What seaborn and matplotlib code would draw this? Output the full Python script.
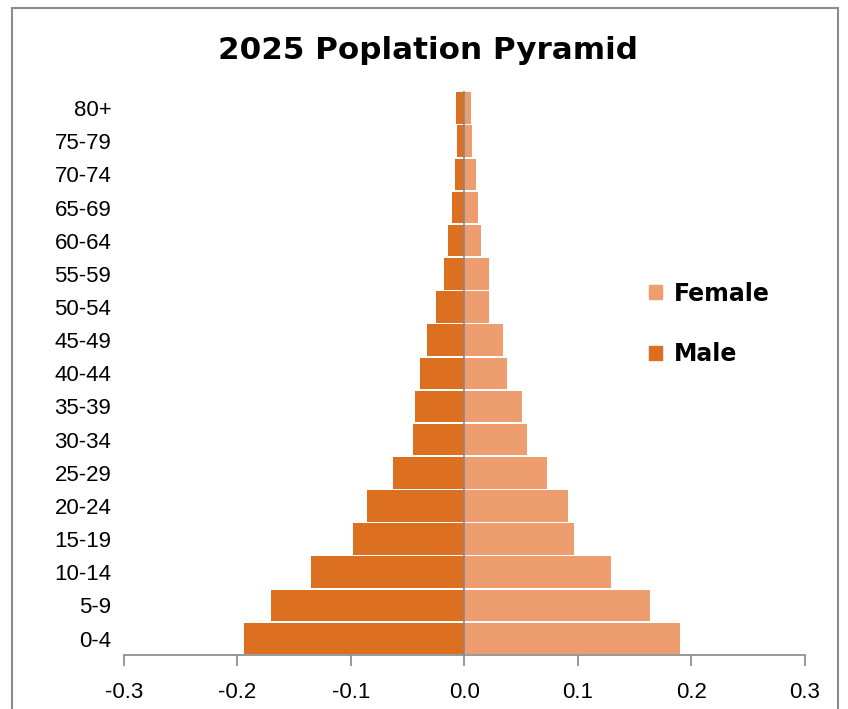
import matplotlib
matplotlib.use("Agg")
import matplotlib.pyplot as plt
import matplotlib.patches as mpatches
import seaborn as sns
import pandas as pd

age_groups = ["80+", "75-79", "70-74", "65-69", "60-64", "55-59", "50-54", "45-49",
              "40-44", "35-39", "30-34", "25-29", "20-24", "15-19", "10-14", "5-9", "0-4"]
male = [-0.007, -0.006, -0.008, -0.011, -0.014, -0.018, -0.025, -0.033,
        -0.039, -0.043, -0.045, -0.063, -0.086, -0.098, -0.135, -0.170, -0.194]
female = [0.006, 0.007, 0.010, 0.012, 0.015, 0.022, 0.022, 0.034,
          0.038, 0.051, 0.055, 0.073, 0.091, 0.097, 0.129, 0.164, 0.190]
xticks = [-0.3, -0.2, -0.1, 0.0, 0.1, 0.2, 0.3]

df = pd.DataFrame({
    "Age": age_groups * 2,
    "Value": female + male,
    "Sex": ["Female"] * len(age_groups) + ["Male"] * len(age_groups),
})

sns.set_theme(style="white")
plt.rcParams["font.family"] = ["Liberation Sans", "DejaVu Sans"]
plt.rcParams["text.color"] = "black"
plt.rcParams["xtick.labelcolor"] = "black"
plt.rcParams["ytick.labelcolor"] = "black"

fig = plt.figure(figsize=(8.48, 7.09), dpi=100)
ax = fig.add_axes([0.146, 0.076, 0.803, 0.795])

palette = {"Female": "#EE9E6E", "Male": "#DC6F20"}
sns.barplot(data=df, x="Value", y="Age", hue="Sex", order=age_groups,
            hue_order=["Female", "Male"], palette=palette, dodge=False,
            width=0.95, orient="h", saturation=1, ax=ax, legend=False,
            linewidth=0)

ax.set_xlim(-0.3, 0.3)
ax.set_ylim(16.5, -0.5)
ax.set_xticks(xticks)
ax.set_xticklabels([f"{t:.1f}" for t in xticks], fontsize=16)
ax.tick_params(axis="x", length=8, width=1.2, color="#888888", pad=11, direction="out", bottom=True)
ax.tick_params(axis="y", length=0, labelsize=16, pad=9)
ax.set_xlabel("")
ax.set_ylabel("")
for s in ["top", "right", "left"]:
    ax.spines[s].set_visible(False)
ax.spines["bottom"].set_color("#888888")
ax.spines["bottom"].set_linewidth(1.2)
ax.axvline(0, color="#888888", lw=1.2, zorder=3)

fig.text(0.505, 0.929, "2025 Poplation Pyramid", ha="center", va="center",
         fontsize=22.3, fontweight="bold", family=["DejaVu Sans"], color="black")

handles = [mpatches.Patch(color=palette["Female"], label="Female"),
           mpatches.Patch(color=palette["Male"], label="Male")]
fig.legend(handles=handles, loc="center left", bbox_to_anchor=(0.740, 0.543),
           frameon=False, handlelength=0.55, handleheight=0.55, handletextpad=0.5,
           labelspacing=1.55, prop={"size": 17, "weight": "bold", "family": "DejaVu Sans"})

fig.patches.append(mpatches.Rectangle((12 / 848, -0.01), 826 / 848, 1 - 8 / 709 + 0.01,
                                      transform=fig.transFigure, fill=False,
                                      edgecolor="#8c8c8c", lw=1.5))

fig.savefig("out.png", dpi=100)
